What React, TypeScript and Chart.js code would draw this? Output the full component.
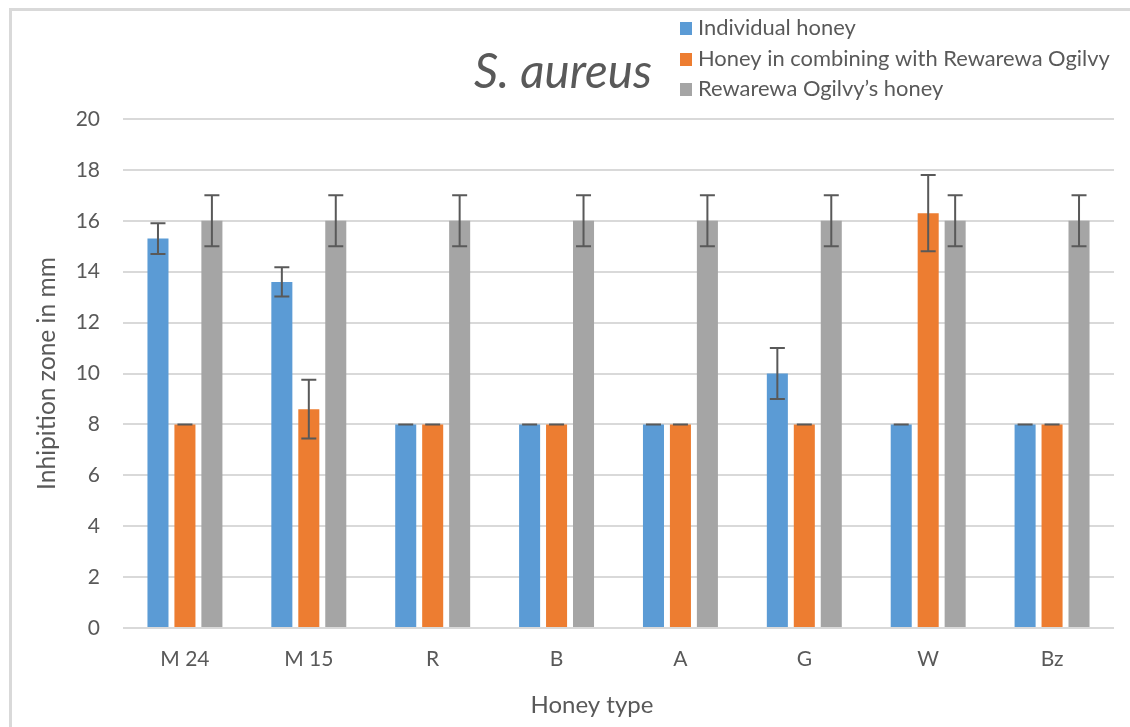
import React, { useEffect, useRef } from "react";
import { Chart, registerables } from "chart.js";

Chart.register(...registerables);

const categories = ["M 24", "M 15", "R", "B", "A", "G", "W", "Bz"];
const individual = [15.3, 13.6, 8, 8, 8, 10, 8, 8];
const individualErr = [0.6, 0.57, 0, 0, 0, 1, 0, 0];
const combined = [8, 8.6, 8, 8, 8, 8, 16.3, 8];
const combinedErr = [0, 1.15, 0, 0, 0, 0, 1.5, 0];
const rewarewa = [16, 16, 16, 16, 16, 16, 16, 16];
const rewarewaErr = [1, 1, 1, 1, 1, 1, 1, 1];
const seriesNames = [
  "Individual honey",
  "Honey in combining with Rewarewa Ogilvy",
  "Rewarewa Ogilvy\u2019s honey",
];
const seriesColors = ["#5B9BD5", "#ED7D31", "#A5A5A5"];
const yTicks = [0, 2, 4, 6, 8, 10, 12, 14, 16, 18, 20];

const FONT = "Lato, 'Open Sans', sans-serif";
const TEXT = "#595959";

function fitFont(ctx: CanvasRenderingContext2D, text: string, style: string, target: number) {
  ctx.font = `${style} 20px ${FONT}`;
  const w = ctx.measureText(text).width;
  return (20 * target) / w;
}

const decorPlugin = {
  id: "decor",
  beforeDraw(chart: any) {
    const ctx = chart.ctx as CanvasRenderingContext2D;
    ctx.save();
    ctx.strokeStyle = "#d9d9d9";
    ctx.lineWidth = 3;
    ctx.beginPath();
    ctx.moveTo(10.5, 727);
    ctx.lineTo(10.5, 9.5);
    ctx.lineTo(1130, 9.5);
    ctx.stroke();
    ctx.restore();
  },
  afterDatasetsDraw(chart: any) {
    const ctx = chart.ctx as CanvasRenderingContext2D;
    const y = chart.scales.y;
    const errs = [individualErr, combinedErr, rewarewaErr];
    ctx.save();
    ctx.strokeStyle = "#595959";
    ctx.lineWidth = 2;
    chart.data.datasets.forEach((ds: any, i: number) => {
      const meta = chart.getDatasetMeta(i);
      meta.data.forEach((el: any, j: number) => {
        const v = ds.data[j];
        const e = errs[i][j];
        const top = y.getPixelForValue(v + e);
        const bot = y.getPixelForValue(v - e);
        const x = el.x;
        const cw = 7.5;
        ctx.beginPath();
        ctx.moveTo(x, top);
        ctx.lineTo(x, bot);
        ctx.moveTo(x - cw, top);
        ctx.lineTo(x + cw, top);
        ctx.moveTo(x - cw, bot);
        ctx.lineTo(x + cw, bot);
        ctx.stroke();
      });
    });
    ctx.restore();
  },
  afterDraw(chart: any) {
    const ctx = chart.ctx as CanvasRenderingContext2D;
    ctx.save();
    ctx.fillStyle = TEXT;
    ctx.textBaseline = "alphabetic";
    // title
    const ts = fitFont(ctx, "S. aureus", "italic", 178);
    ctx.font = `italic ${ts}px ${FONT}`;
    ctx.textAlign = "left";
    ctx.fillText("S. aureus", 474, 88);
    // legend
    const ls = fitFont(ctx, seriesNames[1], "", 412);
    ctx.font = `${ls}px ${FONT}`;
    const baselines = [35, 66, 96];
    seriesNames.forEach((n, i) => {
      ctx.fillStyle = seriesColors[i];
      ctx.fillRect(680, baselines[i] - 13, 12, 13);
      ctx.fillStyle = TEXT;
      ctx.fillText(n, 698, baselines[i]);
    });
    // x axis title
    const xs = fitFont(ctx, "Honey type", "", 123);
    ctx.font = `${xs}px ${FONT}`;
    ctx.textAlign = "center";
    ctx.fillText("Honey type", 592, 713);
    // y axis title
    const ys = fitFont(ctx, "Inhipition zone in mm", "", 233);
    ctx.font = `${ys}px ${FONT}`;
    ctx.translate(55, 373.5);
    ctx.rotate(-Math.PI / 2);
    ctx.fillText("Inhipition zone in mm", 0, 0);
    ctx.restore();
  },
};

export default function App() {
  const ref = useRef<HTMLCanvasElement>(null);
  useEffect(() => {
    if (!ref.current) return;
    const all = [individual, combined, rewarewa];
    const chart = new Chart(ref.current, {
      type: "bar",
      data: {
        labels: categories,
        datasets: all.map((d, i) => ({
          label: seriesNames[i],
          data: d,
          backgroundColor: seriesColors[i],
          borderWidth: 0,
          categoryPercentage: 0.653,
          barPercentage: 0.78,
        })),
      },
      options: {
        responsive: false,
        animation: false,
        devicePixelRatio: 1,
        layout: { padding: { top: 119, right: 16, left: 0, bottom: 0 } },
        plugins: {
          legend: { display: false },
          title: { display: false },
          tooltip: { enabled: false },
        },
        scales: {
          x: {
            grid: { display: false, drawTicks: false },
            border: { display: false },
            ticks: { color: TEXT, font: { family: FONT, size: 21 }, padding: 19 },
            afterFit: (s: any) => {
              s.height = 99;
            },
          },
          y: {
            min: 0,
            max: 20,
            afterBuildTicks: (s: any) => {
              s.ticks = yTicks.map((v) => ({ value: v }));
            },
            grid: { color: "#d9d9d9", lineWidth: 2, drawTicks: false },
            border: { display: false },
            ticks: { color: TEXT, font: { family: FONT, size: 21 }, padding: 23 },
            afterFit: (s: any) => {
              s.width = 123;
            },
          },
        },
      },
      plugins: [decorPlugin],
    });
    return () => chart.destroy();
  }, []);
  return (
    <div style={{ position: "fixed", left: 0, top: 0, width: 1130, height: 727, background: "#fff" }}>
      <canvas ref={ref} width={1130} height={727} style={{ width: 1130, height: 727 }} />
    </div>
  );
}
